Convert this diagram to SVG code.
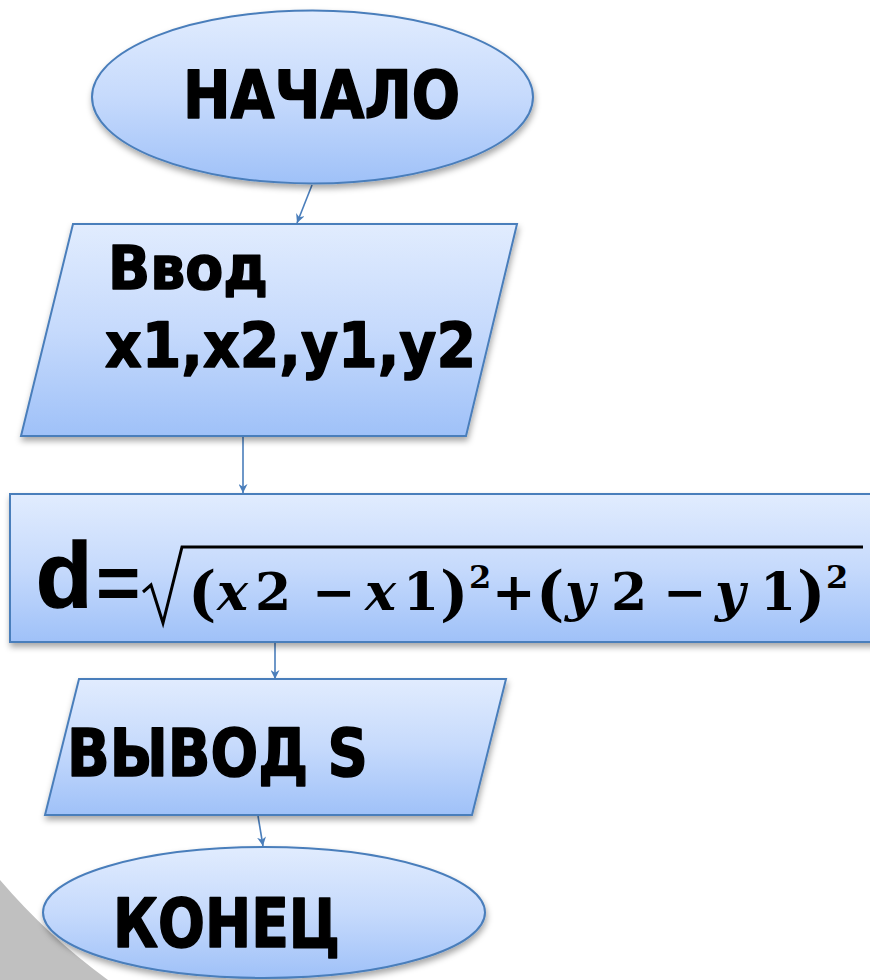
<svg xmlns="http://www.w3.org/2000/svg" width="870" height="980" viewBox="0 0 870 980">
<defs>
  <linearGradient id="fillGrad" x1="0" y1="0" x2="0" y2="1">
    <stop offset="0" stop-color="#e1ecfe"/>
    <stop offset="0.5" stop-color="#c6dafc"/>
    <stop offset="1" stop-color="#9fc1f8"/>
  </linearGradient>
  <filter id="shadow" x="-10%" y="-10%" width="120%" height="130%">
    <feDropShadow dx="1" dy="4" stdDeviation="3" flood-color="#000" flood-opacity="0.35"/>
  </filter>
  <marker id="arrow" viewBox="0 0 10 10" refX="10" refY="5" markerWidth="9" markerHeight="9" markerUnits="userSpaceOnUse" orient="auto">
    <path d="M0,0 L10,5 L0,10 L3,5 Z" fill="#4a7ebb"/>
  </marker>
</defs>
<style>
  .shape { fill: url(#fillGrad); stroke: #4a7ebb; stroke-width: 2; filter: url(#shadow); }
  .lbl { font-family: "DejaVu Sans", Verdana, sans-serif; font-weight: bold; fill: #000; stroke: #000; stroke-width: 1.6; stroke-linejoin: round; }
  .math { font-family: "DejaVu Serif", "Liberation Serif", serif; font-weight: bold; fill: #000; }
  .it { font-style: italic; }
  .big { font-size: 60px; }
  .sup { font-size: 32px; }
  .conn { stroke: #4a7ebb; stroke-width: 1.6; fill: none; marker-end: url(#arrow); }
</style>
<rect width="870" height="980" fill="#ffffff"/>
<path d="M0,880 A630,630 0 0 0 108,980 L0,980 Z" fill="#c0c0c0"/>

<g id="connectors">
  <line class="conn" x1="312" y1="185" x2="297" y2="223"/>
  <line class="conn" x1="243" y1="437" x2="243" y2="493"/>
  <line class="conn" x1="275" y1="643" x2="275" y2="679"/>
  <line class="conn" x1="258" y1="816" x2="263" y2="846"/>
</g>

<g id="start">
  <ellipse class="shape" cx="312.5" cy="97" rx="220.5" ry="86.5"/>
  <text class="lbl" x="183" y="118" font-size="66" textLength="277" lengthAdjust="spacingAndGlyphs">НАЧАЛО</text>
</g>

<g id="input">
  <polygon class="shape" points="73,224 517,224 466,436 21,436"/>
  <text class="lbl" x="108" y="289" font-size="61" textLength="160" lengthAdjust="spacingAndGlyphs">Ввод</text>
  <text class="lbl" x="105" y="367" font-size="62" textLength="371" lengthAdjust="spacingAndGlyphs">x1,x2,y1,y2</text>
</g>

<g id="process">
  <rect class="shape" x="10" y="494" width="890" height="148"/>
  <text x="36" y="607" font-family="'Liberation Sans', Arial, sans-serif" font-weight="bold" font-size="92" stroke="#000" stroke-width="1.5">d<tspan x="96" y="609" font-size="76" stroke-width="0">=</tspan></text>
  <path d="M143,592 L151,585 L163,623 L182,547 L863,547" fill="none" stroke="#000" stroke-width="3" stroke-linejoin="miter"/>
  <text class="math" font-size="52"><tspan class="big" x="188" y="614">(</tspan><tspan class="it" x="217" y="610">x</tspan><tspan x="255" y="610">2</tspan><tspan x="312" y="610">−</tspan><tspan class="it" x="365" y="610">x</tspan><tspan x="403" y="610">1</tspan><tspan class="big" x="440" y="614">)</tspan><tspan class="sup" x="469" y="588">2</tspan><tspan x="492" y="610">+</tspan><tspan class="big" x="536" y="614">(</tspan><tspan class="it" x="565" y="610">y</tspan><tspan x="611" y="610">2</tspan><tspan x="663" y="610">−</tspan><tspan class="it" x="715" y="610">y</tspan><tspan x="760" y="610">1</tspan><tspan class="big" x="797" y="614">)</tspan><tspan class="sup" x="826" y="588">2</tspan></text>
</g>

<g id="output">
  <polygon class="shape" points="79,679 506,679 472,815 45,815"/>
  <text class="lbl" x="67" y="776" font-size="66" textLength="301" lengthAdjust="spacingAndGlyphs">ВЫВОД S</text>
</g>

<g id="end">
  <ellipse class="shape" cx="264" cy="912.5" rx="221" ry="65.5"/>
  <text class="lbl" x="113" y="947" font-size="67" textLength="227" lengthAdjust="spacingAndGlyphs">КОНЕЦ</text>
</g>
</svg>
